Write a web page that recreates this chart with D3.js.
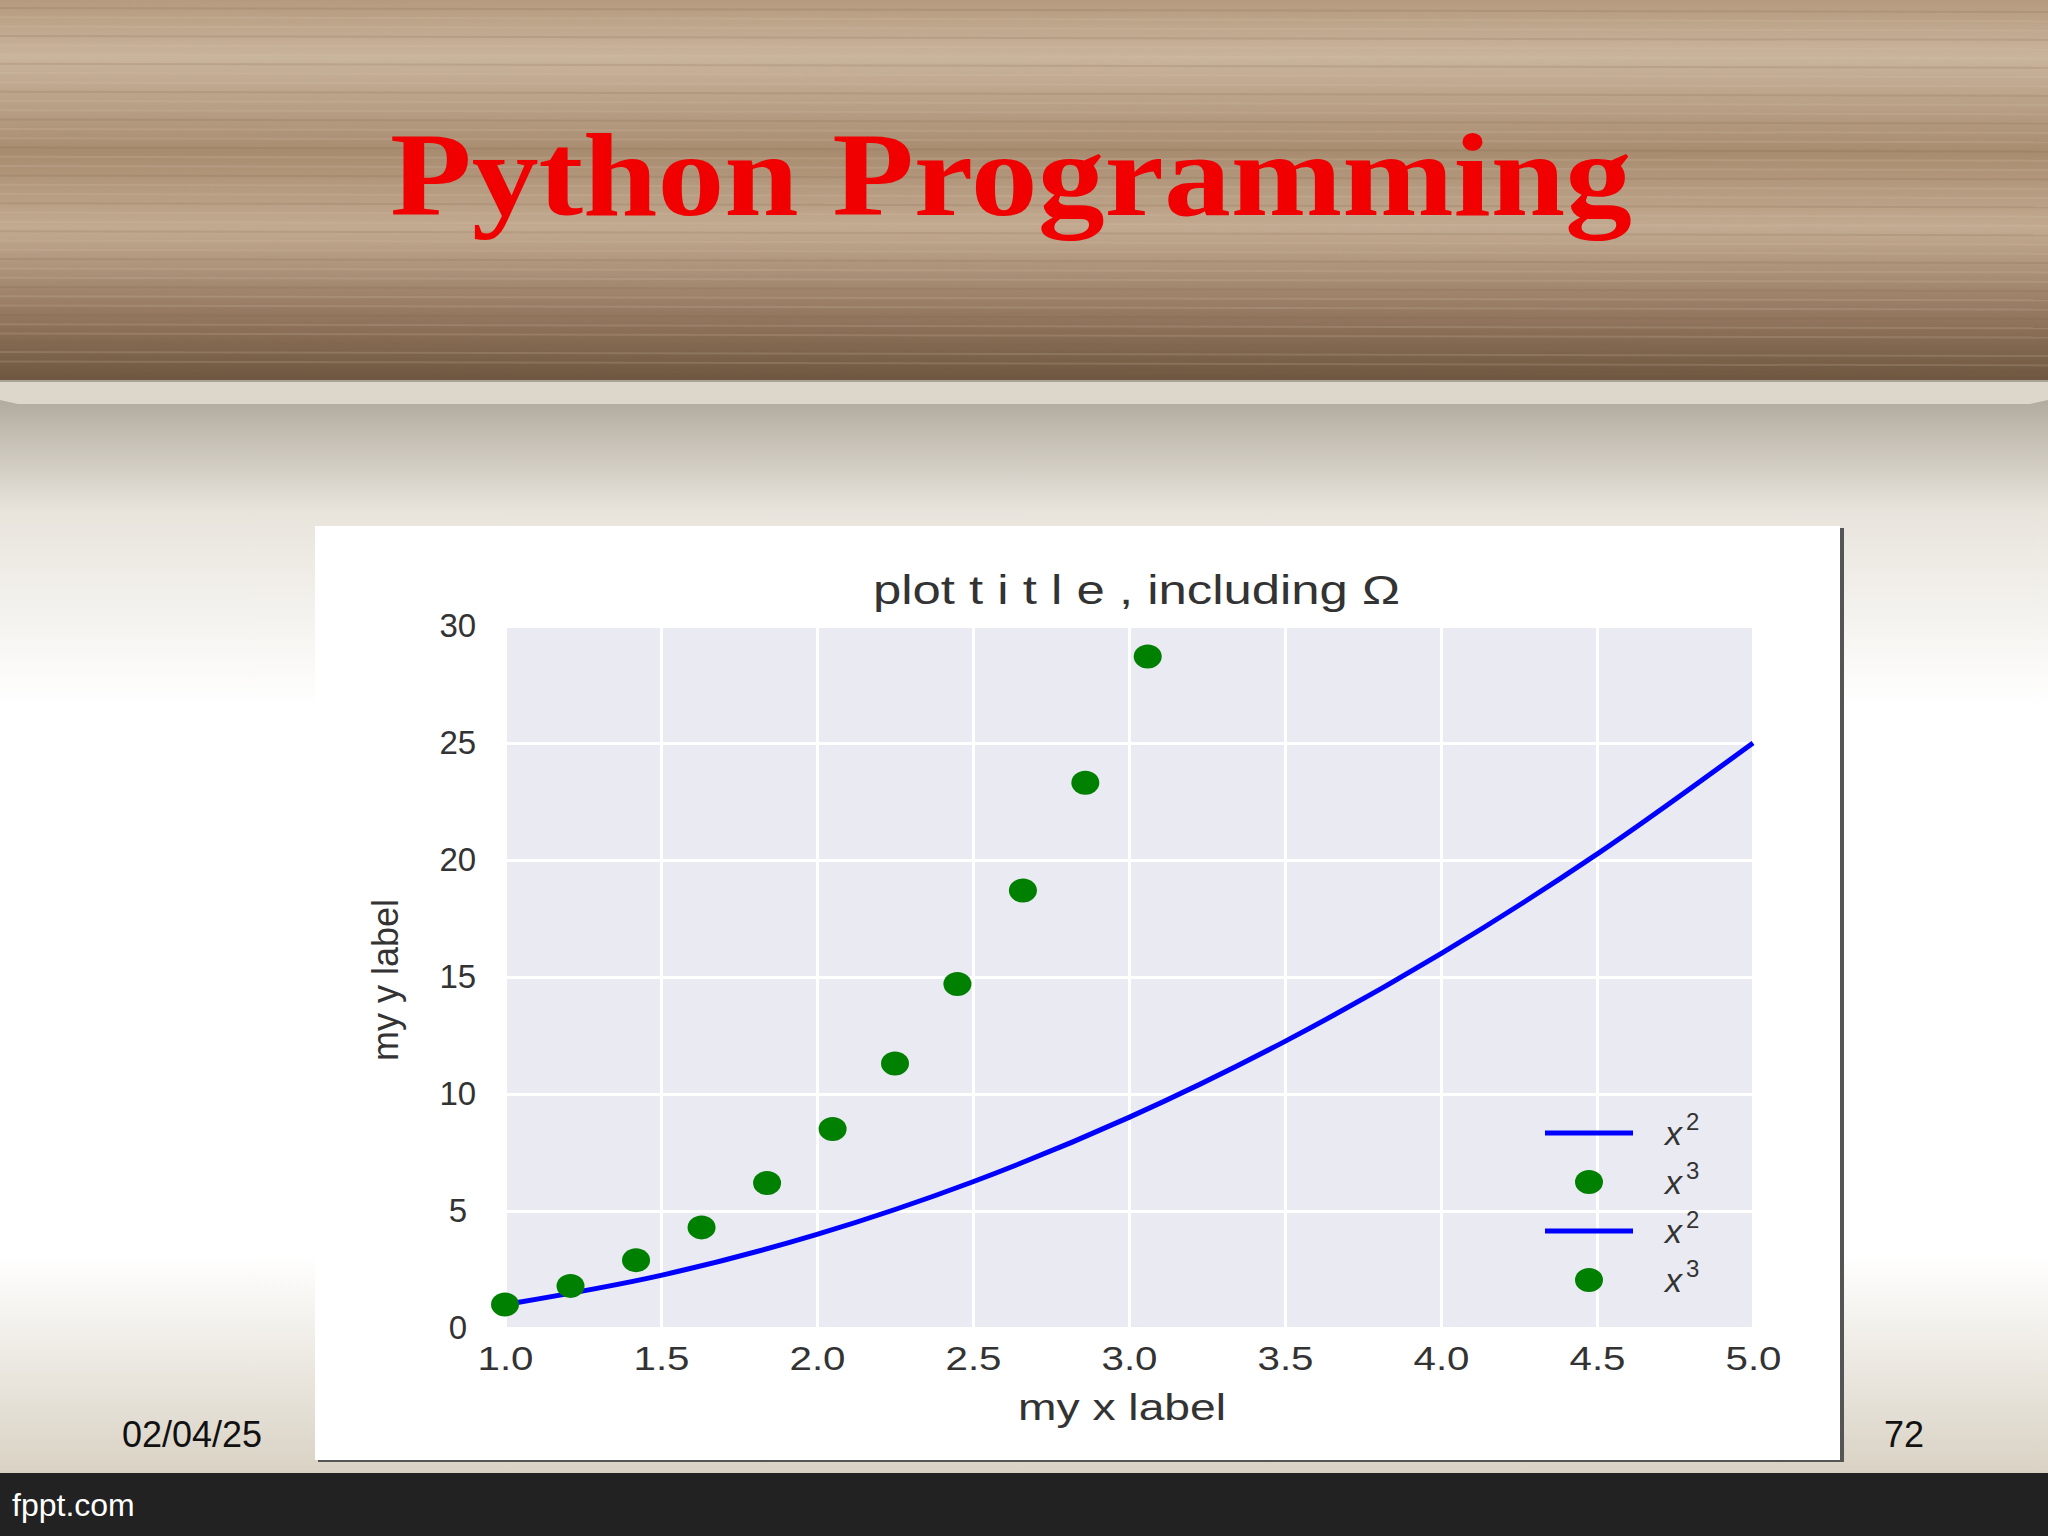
<!DOCTYPE html>
<html><head><meta charset="utf-8">
<script src="https://cdn.jsdelivr.net/npm/d3@7"></script>
<style>body{margin:0;overflow:hidden}svg{display:block}</style></head>
<body><svg id="c" width="2048" height="1536"></svg>
<script>
const cubeX = [1.0,1.21,1.42,1.63,1.84,2.05,2.25,2.45,2.66,2.86,3.06];
const cubeY = [1.0,1.8,2.9,4.3,6.2,8.5,11.3,14.7,18.7,23.3,28.7];
const sqX = [1.0,1.5,2.0,2.5,3.0,3.5,4.0,4.5,5.0];
const sqY = [1.0,2.25,4.0,6.25,9.0,12.25,16.0,20.25,25.0];
const xTicks = [1.0,1.5,2.0,2.5,3.0,3.5,4.0,4.5,5.0];
const yTicks = [0,5,10,15,20,25,30];
const legendItems = [{t:"line",s:"2"},{t:"dot",s:"3"},{t:"line",s:"2"},{t:"dot",s:"3"}];

const svg = d3.select("#c");
const defs = svg.append("defs");
const wg = defs.append("linearGradient").attr("id","wood").attr("x1",0).attr("y1",0).attr("x2",0).attr("y2",1);
[[0,"#b59a7e"],[0.15,"#c9b49c"],[0.4,"#a88c70"],[0.6,"#c2aa90"],[0.85,"#8f735a"],[1,"#6e5640"]].forEach(s=>wg.append("stop").attr("offset",s[0]).attr("stop-color",s[1]));
const bg = defs.append("linearGradient").attr("id","bg").attr("x1",0).attr("y1",0).attr("x2",0).attr("y2",1);
[[0,"#a8a194"],[0.12,"#e8e4dc"],[0.3,"#ffffff"],[0.8,"#ffffff"],[1,"#d9d2c4"]].forEach(s=>bg.append("stop").attr("offset",s[0]).attr("stop-color",s[1]));
svg.append("rect").attr("x",0).attr("y",380).attr("width",2048).attr("height",1093).attr("fill","url(#bg)");
svg.append("rect").attr("width",2048).attr("height",380).attr("fill","url(#wood)");
for(let i=0;i<40;i++){svg.append("line").attr("x1",0).attr("x2",2048).attr("y1",8+i*9.3).attr("y2",12+i*9.3).attr("stroke",i%3?"#d8c8b4":"#7d634a").attr("stroke-opacity",0.18).attr("stroke-width",2);}
svg.append("path").attr("d","M0,382 L2048,382 L2048,400 L2030,404 L18,404 L0,400Z").attr("fill","#ddd6ca");
svg.append("rect").attr("x",0).attr("y",1473).attr("width",2048).attr("height",63).attr("fill","#222");
svg.append("text").attr("x",12).attr("y",1516).attr("fill","#fff").attr("font-family","Liberation Sans, Arial").attr("font-size",32).text("fppt.com");
svg.append("text").attr("x",390).attr("y",215).attr("fill","#f00000").attr("textLength",1242).attr("lengthAdjust","spacingAndGlyphs")
 .attr("font-family","Liberation Serif, serif").attr("font-weight","bold").attr("font-size",118).text("Python Programming");
svg.append("text").attr("x",122).attr("y",1447).attr("font-family","Liberation Sans, Arial").attr("font-size",36).attr("fill","#111").text("02/04/25");
svg.append("text").attr("x",1924).attr("y",1447).attr("text-anchor","end").attr("font-family","Liberation Sans, Arial").attr("font-size",36).attr("fill","#111").text("72");

svg.append("rect").attr("x",318).attr("y",528).attr("width",1526).attr("height",934).attr("fill","#555");
svg.append("rect").attr("x",315).attr("y",526).attr("width",1525).attr("height",934).attr("fill","#fff");

const x = d3.scaleLinear().domain([1,5]).range([505,1753]);
const y = d3.scaleLinear().domain([0,30]).range([1328,626]);
svg.append("rect").attr("x",505).attr("y",626).attr("width",1248).attr("height",702).attr("fill","#eaeaf2");
const F="Liberation Sans, Arial, sans-serif";
const gx = svg.append("g").attr("transform","translate(0,1328)").call(d3.axisBottom(x).tickValues(xTicks).tickFormat(d3.format(".1f")).tickSize(-702).tickPadding(12));
const gy = svg.append("g").attr("transform","translate(505,0)").call(d3.axisLeft(y).tickValues(yTicks).tickSize(-1248).tickPadding(34));
[gx,gy].forEach(g=>{g.select(".domain").remove();g.selectAll(".tick line").attr("stroke","#fff").attr("stroke-width",3);
 g.selectAll("text").attr("font-family",F).attr("font-size",33).attr("fill","#333");});
gx.selectAll("text").attr("dy","0.9em").attr("textLength",56).attr("lengthAdjust","spacingAndGlyphs");
gy.selectAll("text").attr("text-anchor","middle").attr("dx","-0.4em");

const line = d3.line().x((d,i)=>x(sqX[i])).y(d=>y(d)).curve(d3.curveMonotoneX);
svg.append("path").attr("d",line(sqY)).attr("fill","none").attr("stroke","#0000ff").attr("stroke-width",5);
svg.append("g").selectAll("ellipse").data(cubeY).join("ellipse").attr("cx",(d,i)=>x(cubeX[i])).attr("cy",d=>y(d))
 .attr("rx",14).attr("ry",12).attr("fill","#008000");

svg.append("text").attr("x",873).attr("y",604).attr("textLength",527).attr("lengthAdjust","spacingAndGlyphs").attr("font-family",F).attr("font-size",40).attr("fill","#333").text("plot t i t l e , including Ω");
svg.append("text").attr("x",1122).attr("y",1420).attr("text-anchor","middle").attr("textLength",208).attr("lengthAdjust","spacingAndGlyphs").attr("font-family",F).attr("font-size",36).attr("fill","#333").text("my x label");
svg.append("text").attr("transform","translate(398,980) rotate(-90)").attr("text-anchor","middle").attr("font-family",F).attr("font-size",36).attr("fill","#333").text("my y label");

const lg = svg.append("g");
legendItems.forEach((d,i)=>{
 const yy = 1133 + i*49;
 if(d.t==="line") lg.append("line").attr("x1",1545).attr("x2",1633).attr("y1",yy).attr("y2",yy).attr("stroke","#0000ff").attr("stroke-width",5);
 else lg.append("ellipse").attr("cx",1589).attr("cy",yy).attr("rx",14).attr("ry",12).attr("fill","#008000");
 const t = lg.append("text").attr("x",1665).attr("y",yy+12).attr("font-family",F).attr("font-size",34).attr("fill","#333");
 t.append("tspan").attr("font-style","italic").text("x");
 t.append("tspan").attr("dy",-15).attr("font-size",24).attr("dx",4).text(d.s);
});
</script></body></html>
